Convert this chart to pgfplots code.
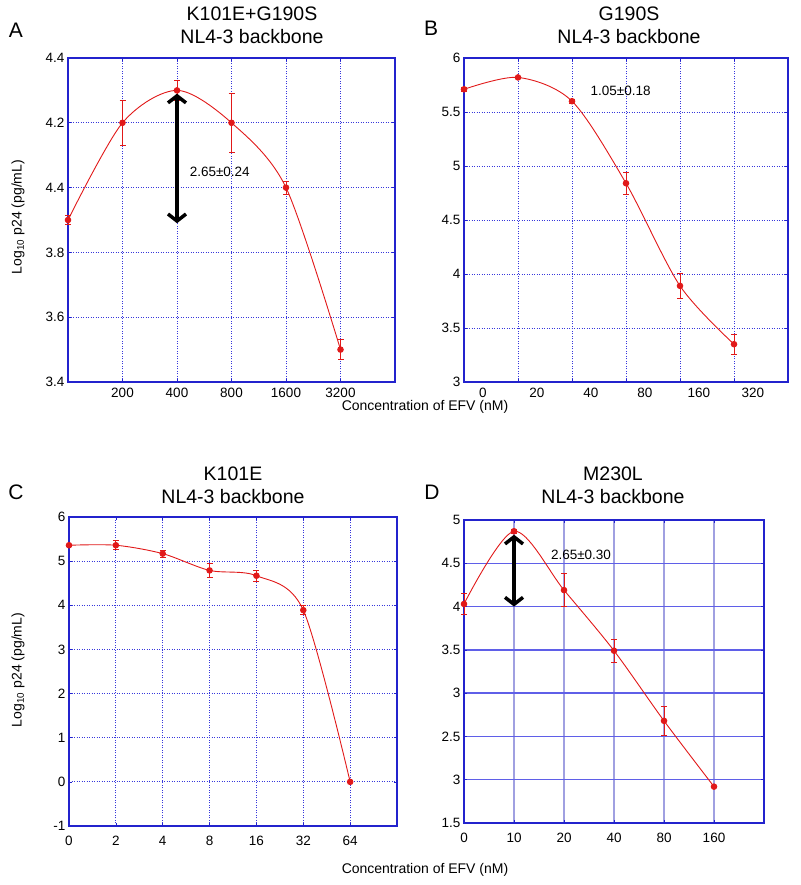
\documentclass[border=0pt]{standalone}
\usepackage{fontspec}
\setmainfont{Liberation Sans}
\usepackage{pgfplots}
\pgfplotsset{compat=1.18}
\usetikzlibrary{arrows.meta}

\definecolor{gridblue}{RGB}{55,55,220}
\definecolor{dblue}{RGB}{95,95,232}
\definecolor{framecol}{RGB}{35,35,205}
\definecolor{datared}{RGB}{225,25,25}
\definecolor{lavender}{RGB}{160,160,225}

\newcommand{\tickfont}{\fontsize{13.5}{16}\selectfont}
\newcommand{\labfont}{\fontsize{14}{17}\selectfont}
\newcommand{\titfont}{\fontsize{19.5}{23}\selectfont}

\tikzset{
  dbl/.style={line width=3.5pt,
    {Straight Barb[length=7pt,width=18pt]}-{Straight Barb[length=7pt,width=18pt]}},
  gdot/.style={draw=gridblue, dash pattern=on 1pt off 1.5pt, line width=0.8pt},
}
\pgfplotsset{
  panel/.style={
    scale only axis, clip=false,
    axis line style={framecol, line width=1.1pt},
    xmajorgrids, ymajorgrids,
    every axis grid/.style={gdot},
    every major grid/.style={gdot},
    x grid style={gdot},
    y grid style={gdot},
    xtick style={draw=framecol, line width=0.7pt},
    ytick style={draw=framecol, line width=0.7pt},
    major tick length=3pt, tick align=inside,
    ticklabel style={font=\tickfont},
    /pgf/number format/assume math mode=true,
  },
  curve/.style={
    datared, line width=0.9pt, smooth,
    mark=*, mark size=2.8pt, mark options={solid, fill=datared, draw=datared},
    error bars/.cd, y dir=both, y explicit,
    error bar style={datared, line width=0.8pt},
    error mark options={rotate=90, datared, mark size=3pt, line width=0.8pt},
  },
}

\begin{document}
\begin{tikzpicture}
\useasboundingbox (0pt,0pt) rectangle (800pt,885pt);

% A: K101E+G190S
\begin{axis}[panel, at={(68pt,503pt)}, anchor=south west,
    width=327pt, height=324pt,
    xmin=0, xmax=6, ymin=3.4, ymax=4.4,
    xtick={1,2,3,4,5}, xticklabels={200,400,800,1600,3200},
    ytick={3.4,3.6,3.8,4.0,4.2,4.4},
    yticklabels={3.4,3.6,3.8,4.4,4.2,4.4},
    xticklabel style={yshift=-3pt}]
  \addplot[curve] coordinates {
    (0,3.90) +- (0,0.015)
    (1,4.20) +- (0,0.07)
    (2,4.30) +- (0,0.03)
    (3,4.20) +- (0,0.09)
    (4,4.00) +- (0,0.02)
    (5,3.50) +- (0,0.03)};
  \draw[dbl] (axis cs:2,4.29) -- (axis cs:2,3.89);
  \node[anchor=west, font=\tickfont] at (axis cs:2.17,4.05) {2.65±0.24};
\end{axis}

% B: G190S
\begin{axis}[panel, at={(464pt,503pt)}, anchor=south west,
    width=324pt, height=324pt,
    xmin=0, xmax=6, ymin=3, ymax=6,
    xtick={1,2,3,4,5}, xticklabels={,,,,},
    extra x ticks={0.35,1.35,2.35,3.35,4.35,5.35},
    extra x tick labels={0,20,40,80,160,320},
    extra x tick style={xmajorgrids=false, major tick length=0pt},
    ytick={3,3.5,4,4.5,5,5.5,6},
    yticklabels={3,3.5,4,4.5,5,5.5,6},
    xticklabel style={yshift=-3pt}]
  \addplot[curve] coordinates {
    (0,5.71) +- (0,0.02)
    (1,5.82) +- (0,0.01)
    (2,5.60) +- (0,0.02)
    (3,4.84) +- (0,0.10)
    (4,3.89) +- (0,0.12)
    (5,3.35) +- (0,0.09)};
  \node[anchor=west, font=\tickfont] at (axis cs:2.28,5.70) {1.05±0.18};
\end{axis}

% C: K101E
\begin{axis}[panel, at={(69pt,59pt)}, anchor=south west,
    width=328pt, height=309pt,
    xmin=0, xmax=7, ymin=-1, ymax=6,
    xtick={0,1,2,3,4,5,6}, xticklabels={0,2,4,8,16,32,64},
    ytick={-1,0,1,2,3,4,5,6},
    yticklabels={-1,0,1,2,3,4,5,6},
    xticklabel style={yshift=-7pt}]
  \addplot[curve] coordinates {
    (0,5.36) +- (0,0.02)
    (1,5.36) +- (0,0.10)
    (2,5.17) +- (0,0.08)
    (3,4.79) +- (0,0.15)
    (4,4.67) +- (0,0.12)
    (5,3.89) +- (0,0.10)
    (6,0.00) +- (0,0)};
\end{axis}

% D: M230L
\begin{axis}[panel, at={(464pt,62pt)}, anchor=south west,
    width=300pt, height=303pt,
    xmin=0, xmax=6, ymin=1.5, ymax=5,
    xtick={0,1,2,3,4,5}, xticklabels={0,10,20,40,80,160},
    ytick={1.5,2,2.5,3,3.5,4,4.5,5},
    yticklabels={1.5,3,2.5,3,3.5,4,4.5,5},
    every axis grid/.style={},
    every major grid/.style={},
    x grid style={draw=lavender, solid, line width=1.2pt},
    y grid style={draw=dblue, solid, line width=1.3pt},
    xticklabel style={yshift=-7pt}]
  \addplot[curve] coordinates {
    (0,4.03) +- (0,0.12)
    (1,4.87) +- (0,0.02)
    (2,4.19) +- (0,0.19)
    (3,3.49) +- (0,0.13)
    (4,2.68) +- (0,0.17)
    (5,1.92) +- (0,0)};
  \draw[dbl] (axis cs:1,4.83) -- (axis cs:1,4.0);
  \node[anchor=west, font=\tickfont] at (axis cs:1.67,4.60) {2.65±0.30};
\end{axis}

% titles, panel letters, shared labels
\node[align=center, font=\titfont] at (252pt,860pt) {K101E+G190S\\NL4-3 backbone};
\node[align=center, font=\titfont] at (629pt,860pt) {G190S\\NL4-3 backbone};
\node[align=center, font=\titfont] at (233pt,400pt) {K101E\\NL4-3 backbone};
\node[align=center, font=\titfont] at (613pt,400pt) {M230L\\NL4-3 backbone};
\node[font=\fontsize{21}{24}\selectfont] at (16pt,855pt) {A};
\node[font=\fontsize{21}{24}\selectfont] at (431pt,857pt) {B};
\node[font=\fontsize{21}{24}\selectfont] at (16pt,393pt) {C};
\node[font=\fontsize{21}{24}\selectfont] at (432pt,393pt) {D};
\node[font=\labfont] at (425pt,478pt) {Concentration of EFV (nM)};
\node[font=\labfont] at (425pt,15pt) {Concentration of EFV (nM)};
\node[font=\labfont, rotate=90] at (18pt,668pt) {Log\textsubscript{10} p24 (pg/mL)};
\node[font=\labfont, rotate=90] at (18pt,215pt) {Log\textsubscript{10} p24 (pg/mL)};
\end{tikzpicture}
\end{document}
